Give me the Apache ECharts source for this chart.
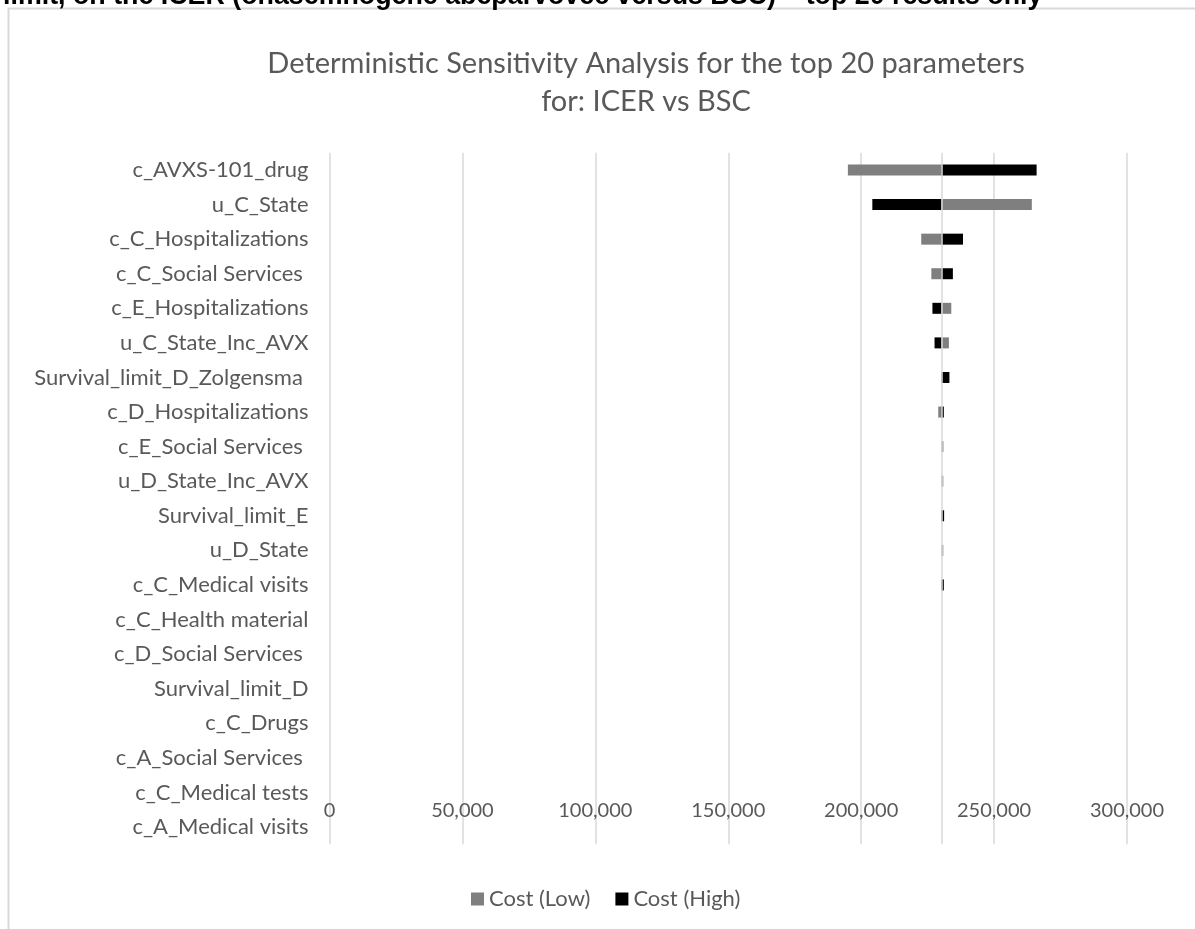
<!DOCTYPE html>
<html>
<head>
<meta charset="utf-8">
<title>Deterministic Sensitivity Analysis – ICER vs BSC</title>
<script src="https://cdn.jsdelivr.net/npm/echarts@6/dist/echarts.min.js"></script>
<style>
  html, body { margin: 0; padding: 0; background: #ffffff; }
  #chart { width: 1195px; height: 929px; }
</style>
</head>
<body>
<div id="chart"></div>
<script>
// Parameters, ordered from the largest swing to the smallest
const categories = [
  'c_AVXS-101_drug',
  'u_C_State',
  'c_C_Hospitalizations',
  'c_C_Social Services ',
  'c_E_Hospitalizations',
  'u_C_State_Inc_AVX',
  'Survival_limit_D_Zolgensma ',
  'c_D_Hospitalizations',
  'c_E_Social Services ',
  'u_D_State_Inc_AVX',
  'Survival_limit_E',
  'u_D_State',
  'c_C_Medical visits',
  'c_C_Health material',
  'c_D_Social Services ',
  'Survival_limit_D',
  'c_C_Drugs',
  'c_A_Social Services ',
  'c_C_Medical tests',
  'c_A_Medical visits'
];

// Base-case ICER the bars swing around
const baseIcer = 230200;

// ICER at the low and high value of each parameter
const costLow = [
  195000, 264200, 222600, 226400, 233900, 233000, 230200, 229000, 230950, 230900,
  230200, 230900, 230200, 230200, 230200, 230200, 230200, 230200, 230200, 230200
];
const costHigh = [
  266000, 204200, 238300, 234500, 226800, 227600, 233200, 231100, 230200, 230200,
  231200, 230200, 231100, 230200, 230200, 230200, 230200, 230200, 230200, 230200
];

const axisTicks = [0, 50000, 100000, 150000, 200000, 250000, 300000];

const FONT = 'Lato, "Open Sans", sans-serif';
const TEXT_COLOR = '#595959';
const GRID_COLOR = '#d9d9d9';
const BAR_HEIGHT = 11;

// Each bar runs from the base-case ICER to the parameter's ICER
function renderSwing(params, api) {
  const cat = api.value(1);
  const start = api.coord([baseIcer, cat]);
  const end = api.coord([api.value(0), cat]);
  return {
    type: 'rect',
    shape: {
      x: Math.min(start[0], end[0]),
      y: start[1] - BAR_HEIGHT / 2,
      width: Math.abs(end[0] - start[0]),
      height: BAR_HEIGHT
    },
    style: api.style()
  };
}

const chart = echarts.init(document.getElementById('chart'), null, { renderer: 'canvas' });

chart.setOption({
  animation: false,
  backgroundColor: '#ffffff',
  title: {
    text: 'Deterministic Sensitivity Analysis for the top 20 parameters\nfor: ICER vs BSC',
    left: 641,
    textAlign: 'center',
    top: 40,
    textStyle: {
      fontFamily: FONT,
      fontSize: 29,
      fontWeight: 'normal',
      color: TEXT_COLOR,
      lineHeight: 38
    }
  },
  graphic: [
    {
      type: 'text',
      left: 3,
      top: -17,
      style: {
        text: 'limit, on the ICER (onasemnogene abeparvovec versus BSC) \u2013 top 20 results only',
        font: 'bold 26.8px "Liberation Sans", Arial, sans-serif',
        fill: '#000000'
      },
      z: 10
    },
    {
      type: 'polyline',
      shape: { points: [[8.5, 929], [8.5, 8.5], [1195, 8.5]] },
      style: { stroke: GRID_COLOR, lineWidth: 2, fill: null },
      z: 5
    }
  ],
  legend: {
    left: 471,
    top: 888,
    padding: 0,
    itemWidth: 13,
    itemHeight: 13,
    itemGap: 25,
    icon: 'rect',
    textStyle: { fontFamily: FONT, fontSize: 22, color: TEXT_COLOR },
    data: ['Cost (Low)', 'Cost (High)']
  },
  grid: {
    left: 329.5,
    right: 68,
    top: 152.7,
    bottom: 84.7,
    containLabel: false
  },
  xAxis: {
    type: 'value',
    min: axisTicks[0],
    max: axisTicks[axisTicks.length - 1],
    interval: axisTicks[1] - axisTicks[0],
    position: 'bottom',
    offset: -44,
    axisLine: { show: false },
    axisTick: { show: false },
    axisLabel: {
      margin: 0,
      fontFamily: FONT,
      fontSize: 20,
      color: TEXT_COLOR,
      formatter: v => v.toLocaleString('en-US')
    },
    splitLine: { show: true, lineStyle: { color: GRID_COLOR, width: 1.5 } }
  },
  yAxis: {
    type: 'category',
    data: categories,
    inverse: true,
    axisLine: { show: false },
    axisTick: { show: false },
    splitLine: { show: false },
    axisLabel: {
      margin: 21,
      fontFamily: FONT,
      fontSize: 22,
      color: TEXT_COLOR
    }
  },
  series: [
    {
      name: 'Cost (Low)',
      type: 'custom',
      renderItem: renderSwing,
      encode: { x: 0, y: 1 },
      itemStyle: { color: '#7f7f7f' },
      data: costLow.map((v, i) => [v, i]),
      markLine: {
        silent: true,
        symbol: 'none',
        label: { show: false },
        lineStyle: { color: GRID_COLOR, width: 1.5, type: 'solid' },
        data: [{ xAxis: baseIcer }],
        z: 20
      },
      z: 3
    },
    {
      name: 'Cost (High)',
      type: 'custom',
      renderItem: renderSwing,
      encode: { x: 0, y: 1 },
      itemStyle: { color: '#000000' },
      data: costHigh.map((v, i) => [v, i]),
      z: 4
    }
  ]
});
</script>
</body>
</html>
